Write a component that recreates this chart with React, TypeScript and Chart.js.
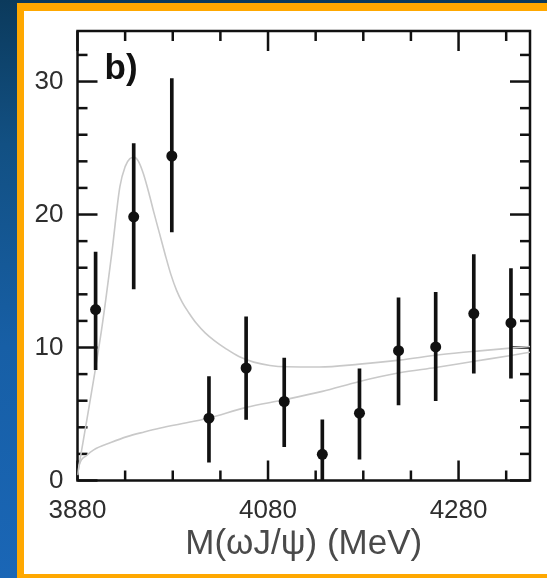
import React, { useEffect, useRef } from "react";
import { Chart, registerables } from "chart.js";

Chart.register(...registerables);

// ---- data ----
const massPoints = [3899, 3939, 3979, 4018, 4057, 4097, 4137, 4176, 4217, 4256, 4296, 4335];
const yieldValues = [12.85, 19.83, 24.4, 4.69, 8.46, 5.94, 1.97, 5.06, 9.76, 10.04, 12.55, 11.85];
const errHigh = [17.17, 25.33, 30.23, 7.82, 12.3, 9.21, 4.56, 8.4, 13.73, 14.15, 16.99, 15.94];
const errLow = [8.33, 14.4, 18.7, 1.37, 4.6, 2.55, 0, 1.6, 5.69, 6.01, 8.08, 7.7];

const fitMass = [3880, 3882, 3888, 3897, 3906, 3916, 3924.5, 3930, 3935, 3939.5, 3944, 3949, 3955, 3960, 3966, 3972, 3978, 3984, 3990, 3997, 4005, 4014, 4024, 4036, 4050, 4065, 4082, 4100, 4134, 4176, 4218, 4260, 4302, 4355];
const fitValues = [0.4, 1.3, 3.8, 7.6, 11.7, 17.1, 22.1, 23.6, 24.2, 24.3, 24.0, 23.1, 21.6, 20.2, 18.6, 17.0, 15.5, 14.3, 13.4, 12.6, 11.8, 11.1, 10.5, 9.9, 9.3, 8.9, 8.65, 8.55, 8.53, 8.75, 9.05, 9.45, 9.75, 10.08];

const bgMass = [3880, 3882, 3890, 3897, 3915, 3932, 3950, 3966, 4001, 4018, 4057, 4097, 4137, 4176, 4218, 4256, 4295, 4335, 4355];
const bgValues = [0.4, 1.2, 1.9, 2.3, 2.85, 3.3, 3.65, 3.93, 4.43, 4.7, 5.5, 6.07, 6.7, 7.45, 8.1, 8.5, 8.95, 9.4, 9.65];

const xTickLabels = [3880, 4080, 4280];
const yTickLabels = [0, 10, 20, 30];
const xMinorStep = 50;
const yMinorStep = 2;
const xRange = [3880, 4355];
const yRange = [0, 33.8];
const panelLabel = "b)";
const xTitle = "M(\u03c9J/\u03c8) (MeV)";

const FONT = '"Liberation Sans", Arial, Helvetica, sans-serif';

const framePlugin = {
  id: "frameTicks",
  beforeDatasetsDraw(chart: any) {
    const { ctx, chartArea: a, scales } = chart;
    const xs = scales.x;
    const ys = scales.y;
    ctx.save();
    ctx.strokeStyle = "#111";
    ctx.lineWidth = 2.5;
    ctx.lineCap = "butt";
    const seg = (x1: number, y1: number, x2: number, y2: number) => {
      ctx.beginPath();
      ctx.moveTo(x1, y1);
      ctx.lineTo(x2, y2);
      ctx.stroke();
    };
    for (let v = xRange[0]; v <= xRange[1] + 0.001; v += xMinorStep) {
      const major = xTickLabels.includes(v);
      const len = major ? 20 : 10;
      const p = xs.getPixelForValue(v);
      seg(p, a.bottom, p, a.bottom - len);
      seg(p, a.top, p, a.top + len);
    }
    for (let v = yRange[0]; v <= yRange[1] + 0.001; v += yMinorStep) {
      const major = yTickLabels.includes(v);
      const len = major ? 20 : 10;
      const p = ys.getPixelForValue(v);
      seg(a.left, p, a.left + len, p);
      seg(a.right, p, a.right - len, p);
    }
    ctx.strokeRect(a.left, a.top, a.right - a.left, a.bottom - a.top);
    ctx.restore();
  },
  afterDraw(chart: any) {
    const { ctx, chartArea: a } = chart;
    ctx.save();
    ctx.font = `bold 35px ${FONT}`;
    ctx.fillStyle = "#111";
    ctx.textBaseline = "alphabetic";
    ctx.textAlign = "left";
    ctx.fillText(panelLabel, a.left + 27, a.top + 48);
    ctx.restore();
  },
};

function ChartPanel() {
  const ref = useRef<HTMLCanvasElement | null>(null);
  useEffect(() => {
    if (!ref.current) return;
    const chart = new Chart(ref.current, {
      data: {
        datasets: [
          {
            type: "line",
            data: fitMass.map((m, i) => ({ x: m, y: fitValues[i] })),
            borderColor: "#c9c9c9",
            borderWidth: 1.6,
            pointRadius: 0,
            fill: false,
            cubicInterpolationMode: "monotone",
            order: 4,
          },
          {
            type: "line",
            data: bgMass.map((m, i) => ({ x: m, y: bgValues[i] })),
            borderColor: "#c9c9c9",
            borderWidth: 1.6,
            pointRadius: 0,
            fill: false,
            cubicInterpolationMode: "monotone",
            order: 3,
          },
          {
            type: "bar",
            data: massPoints.map((m, i) => ({ x: m, y: [errLow[i], errHigh[i]] })),
            backgroundColor: "#111",
            borderWidth: 0,
            barThickness: 3,
            grouped: false,
            order: 2,
          },
          {
            type: "scatter",
            data: massPoints.map((m, i) => ({ x: m, y: yieldValues[i] })),
            backgroundColor: "#111",
            borderWidth: 0,
            pointRadius: 5.5,
            order: 1,
          },
        ] as any,
      },
      options: {
        animation: false,
        responsive: false,
        events: [],
        layout: { padding: { top: 20, right: 17, left: 0, bottom: 0 } },
        plugins: { legend: { display: false }, tooltip: { enabled: false } },
        scales: {
          x: {
            type: "linear",
            min: xRange[0],
            max: xRange[1],
            offset: false,
            grid: { display: false, drawTicks: false },
            border: { display: false },
            afterBuildTicks: (s: any) => {
              s.ticks = xTickLabels.map((v) => ({ value: v }));
            },
            afterFit: (s: any) => {
              s.height = 93.5;
              s.paddingLeft = 0;
              s.paddingRight = 0;
            },
            ticks: {
              padding: 15,
              autoSkip: false,
              maxRotation: 0,
              color: "#2e2e2e",
              font: { family: FONT, size: 26 },
              callback: (v: any) => String(v),
            },
            title: {
              display: true,
              text: xTitle,
              color: "#4a4a4a",
              font: { family: FONT, size: 35 },
              padding: { top: 0, bottom: 8.5 },
            },
          },
          y: {
            type: "linear",
            min: yRange[0],
            max: yRange[1],
            grid: { display: false, drawTicks: false },
            border: { display: false },
            afterBuildTicks: (s: any) => {
              s.ticks = yTickLabels.map((v) => ({ value: v }));
            },
            afterFit: (s: any) => {
              s.width = 53.5;
              s.paddingTop = 0;
              s.paddingBottom = 0;
            },
            ticks: {
              padding: 14,
              color: "#2e2e2e",
              font: { family: FONT, size: 26 },
              callback: (v: any) => String(v),
            },
          },
        },
      } as any,
      plugins: [framePlugin],
    });
    return () => chart.destroy();
  }, []);
  return (
    <canvas
      ref={ref}
      width={523}
      height={563}
      style={{ position: "absolute", left: 0, top: 0, width: 523, height: 563 }}
    />
  );
}

export default function App() {
  return (
    <div
      style={{
        position: "fixed",
        left: 0,
        top: 0,
        width: 547,
        height: 578,
        overflow: "hidden",
        background:
          "linear-gradient(180deg, #0b3a5c 0%, #125083 25%, #175fa6 60%, #1a66b6 100%)",
      }}
    >
      <div
        style={{
          position: "absolute",
          left: 17,
          top: 3,
          width: 545,
          height: 590,
          background: "#ffa800",
        }}
      />
      <div
        style={{
          position: "absolute",
          left: 24,
          top: 11,
          width: 523,
          height: 563,
          background: "#ffffff",
        }}
      >
        <ChartPanel />
      </div>
    </div>
  );
}
